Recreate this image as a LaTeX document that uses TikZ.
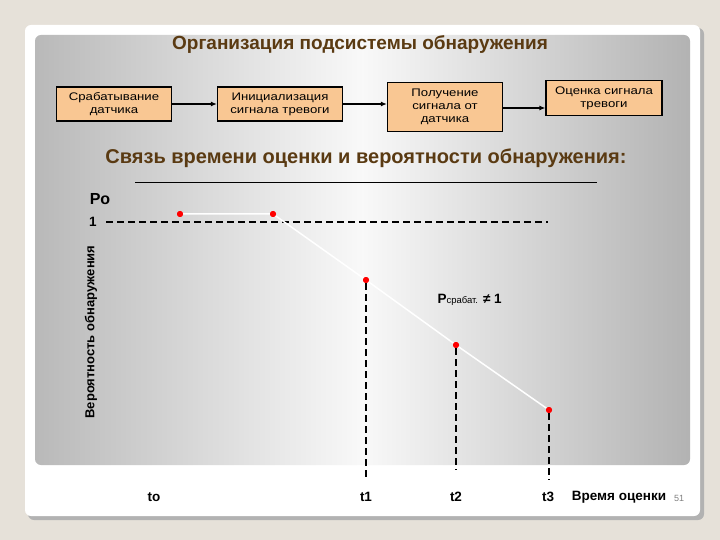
\documentclass[tikz,border=0pt]{standalone}
\usepackage{fontspec}
\setmainfont{Liberation Sans}
\newfontfamily\widef[FakeStretch=1.2]{Liberation Sans}
\usetikzlibrary{arrows.meta,shadows}
\definecolor{bgc}{HTML}{E6E1D9}
\definecolor{peach}{HTML}{F9C793}
\definecolor{brownt}{HTML}{5A3A12}
\tikzset{
  box/.style={draw=black,line width=1.2pt,fill=peach,align=center,font=\widef\fontsize{11}{13}\selectfont,inner sep=2pt},
  arr/.style={line width=1.2pt,-{Latex[length=6pt,width=5pt]}},
  pt/.style={circle,fill=red,inner sep=0pt,minimum size=6pt},
  vd/.style={dashed,line width=1.3pt,dash pattern=on 7pt off 4pt},
  lab/.style={font=\bfseries\fontsize{13.5}{15}\selectfont}
}
\begin{document}
\begin{tikzpicture}[x=1pt,y=-1pt]
\useasboundingbox (0,0) rectangle (720,540);
\fill[bgc] (0,0) rectangle (720,540);
\fill[gray!60,rounded corners=6pt] (28,28) rectangle (704,520);
\fill[white,rounded corners=6pt] (25,25) rectangle (700,516);
\shade[rounded corners=6pt,left color=gray!55,right color=gray!60,middle color=white!95!gray] (35,35) rectangle (690,465);
\node[font=\bfseries\fontsize{19}{21}\selectfont,text=brownt] (title) at (360,45) {Организация подсистемы обнаружения};
\node[box,minimum width=115pt,minimum height=34pt] (b1) at (114,104) {Срабатывание\\датчика};
\node[box,minimum width=125pt,minimum height=34pt] (b2) at (280,104) {Инициализация\\сигнала тревоги};
\node[box,minimum width=115pt,minimum height=49pt] (b3) at (445,107) {Получение\\сигнала от\\датчика};
\node[box,minimum width=116pt,minimum height=35pt] (b4) at (604,98) {Оценка сигнала\\тревоги};
\draw[arr] (b1.east) -- (b2.west);
\draw[arr] (b2.east) -- (b3.west |- b2.east);
\draw[arr] (b3.east |- 0,108) -- (b4.west |- 0,108);
\node[font=\bfseries\fontsize{20}{22}\selectfont,text=brownt] (sub) at (366,158) {Связь времени оценки и вероятности обнаружения:};
\coordinate (la) at (135,182); \coordinate (lb) at (597,182);
\draw[line width=0.7pt] (la) -- (lb);
\node[font=\bfseries\fontsize{16}{18}\selectfont] (po) at (100,199) {Ро};
\node[lab] (one) at (93,222) {1};
\coordinate (d1) at (106,222); \coordinate (d2) at (548,222);
\draw[vd] (d1) -- (d2);
\node[pt] (p0) at (180,214) {};
\node[pt] (p1) at (273,214) {};
\node[pt] (p2) at (366,280) {};
\node[pt] (p3) at (456,345) {};
\node[pt] (p4) at (549,410) {};
\draw[white,line width=1.5pt] (p0) -- (p1) -- (p2) -- (p3) -- (p4);
\node[pt] at (p0) {}; \node[pt] at (p1) {}; \node[pt] at (p2) {}; \node[pt] at (p3) {}; \node[pt] at (p4) {};
\coordinate (e2) at (366,480); \coordinate (e3) at (456,470); \coordinate (e4) at (549,480);
\draw[vd] (p2) -- (e2); \draw[vd] (p3) -- (e3); \draw[vd] (p4) -- (e4);
\node[font=\bfseries\fontsize{13}{14}\selectfont,rotate=90] (yl) at (91,332) {Вероятность обнаружения};
\node[lab,anchor=west] (pf) at (434,300) {Р{\fontsize{9.5}{10}\mdseries\selectfont срабат.} ≠ 1};
\node[lab] (t0) at (154,497) {to};
\node[lab] (t1) at (366,497) {t1};
\node[lab] (t2) at (456,497) {t2};
\node[lab] (t3) at (548,497) {t3};
\node[lab] (vo) at (619,497) {Время оценки};
\node[font=\fontsize{9}{10}\selectfont,text=gray] (num) at (679,498) {51};
\end{tikzpicture}
\end{document}
